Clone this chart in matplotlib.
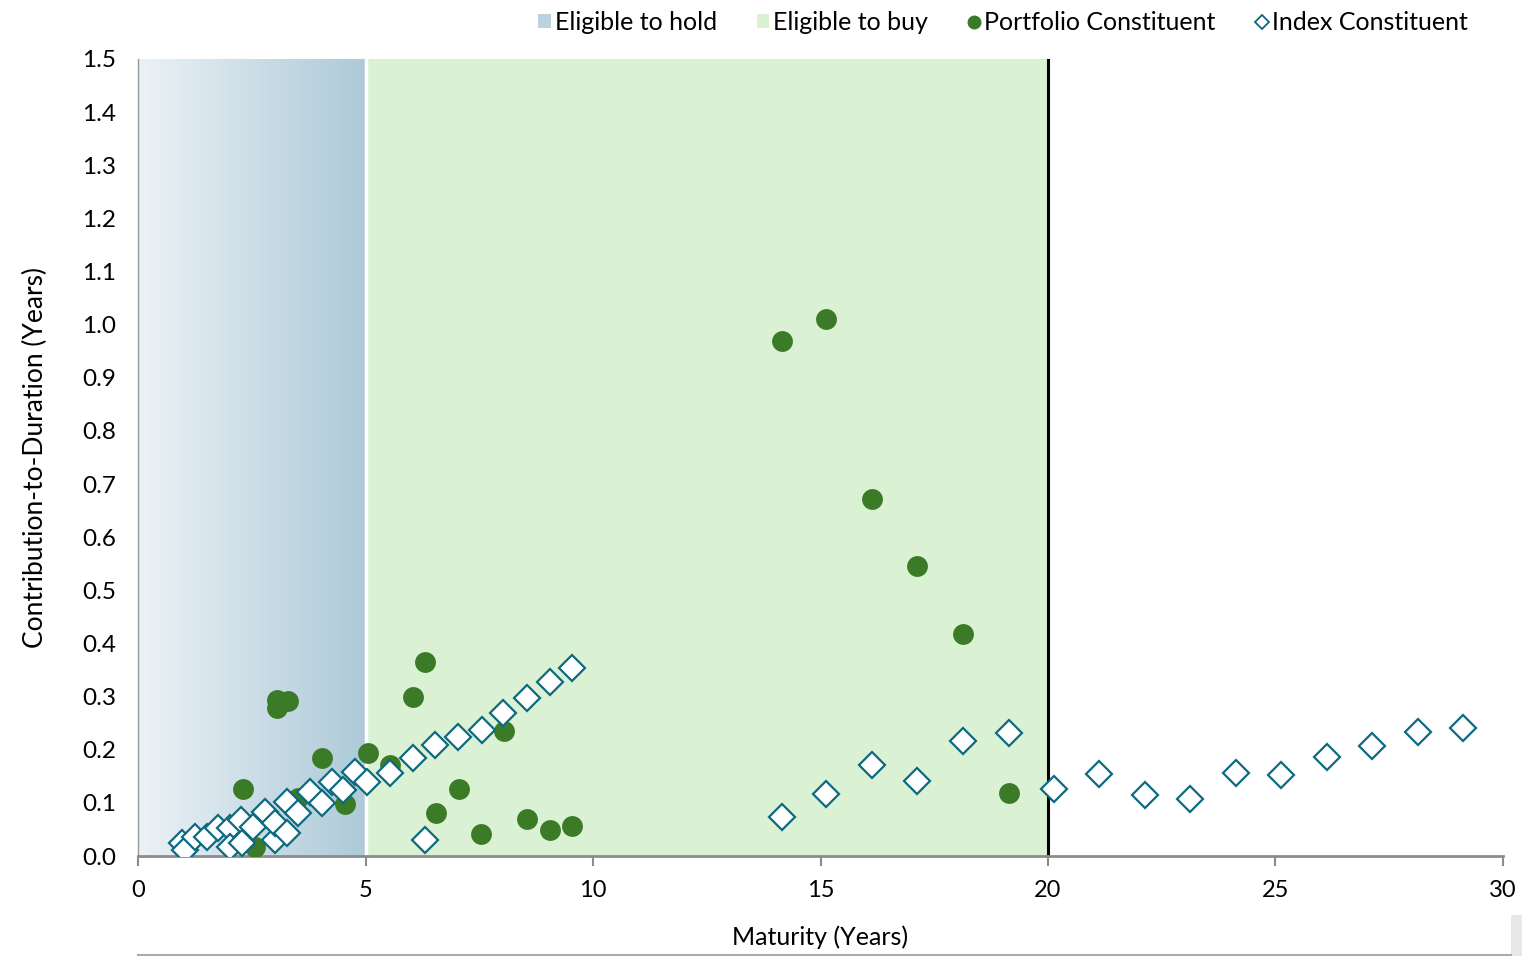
import numpy as np
import matplotlib
matplotlib.use("Agg")
import matplotlib.pyplot as plt
from matplotlib.colors import LinearSegmentedColormap
from matplotlib.lines import Line2D
from matplotlib.patches import Patch, Rectangle

plt.rcParams["font.family"] = ["Lato", "DejaVu Sans"]

# portfolio constituents
port_mat = [2.31, 2.57, 3.05, 3.05, 3.30, 3.51, 4.04, 4.55, 5.05, 5.54, 6.04, 6.31,
            6.55, 7.05, 7.54, 8.04, 8.55, 9.05, 9.54, 14.15, 15.12, 16.13, 17.12,
            18.13, 19.14]
port_ctd = [0.126, 0.017, 0.294, 0.279, 0.292, 0.109, 0.184, 0.098, 0.194, 0.171,
            0.299, 0.365, 0.081, 0.126, 0.041, 0.235, 0.070, 0.049, 0.056, 0.969,
            1.011, 0.672, 0.546, 0.418, 0.119]

# index constituents
idx_mat = [0.97, 1.03, 1.25, 1.51, 1.76, 2.02, 2.02, 2.27, 2.29, 2.53, 2.79, 3.01,
           3.01, 3.27, 3.27, 3.52, 3.78, 4.04, 4.27, 4.51, 4.77, 5.03, 5.54, 6.04,
           6.31, 6.53, 7.03, 7.56, 8.02, 8.55, 9.05, 9.54,
           14.15, 15.12, 16.13, 17.12, 18.13, 19.14, 20.13, 21.12, 22.13, 23.12,
           24.13, 25.12, 26.13, 27.12, 28.13, 29.12]
idx_ctd = [0.024, 0.011, 0.036, 0.036, 0.053, 0.053, 0.017, 0.068, 0.024, 0.055,
           0.083, 0.030, 0.062, 0.102, 0.043, 0.081, 0.120, 0.100, 0.139, 0.124,
           0.158, 0.139, 0.156, 0.184, 0.030, 0.209, 0.224, 0.237, 0.269, 0.297,
           0.327, 0.354,
           0.073, 0.117, 0.171, 0.141, 0.216, 0.231, 0.126, 0.154, 0.115, 0.107,
           0.156, 0.152, 0.186, 0.207, 0.233, 0.241]

x_ticks = [0, 5, 10, 15, 20, 25, 30]
y_ticks = [0.0, 0.1, 0.2, 0.3, 0.4, 0.5, 0.6, 0.7, 0.8, 0.9, 1.0, 1.1, 1.2, 1.3, 1.4, 1.5]

green = "#3b7a27"
teal = "#0c6a80"
hold_cmap = LinearSegmentedColormap.from_list("hold", ["#ecf2f6", "#adcad8"])

fig = plt.figure(figsize=(15.22, 9.56), dpi=100)
ax = fig.add_axes([0.0907, 0.1046, 0.8968, 0.8337])

# eligible to hold: gradient 0-5
grad = np.linspace(0, 1, 256).reshape(1, -1)
ax.imshow(grad, cmap=hold_cmap, extent=[0, 5, 0, 1.5], aspect="auto", zorder=0)
# eligible to buy 5-20
ax.axvspan(5, 20, color="#daf1d3", lw=0, zorder=0)
ax.axvline(5, color="white", lw=2.5, zorder=1)
ax.axvline(20, color="black", lw=2.2, zorder=1)

ax.plot(port_mat, port_ctd, "o", color=green, ms=15, mew=0, zorder=3)
ax.plot(idx_mat, idx_ctd, "D", mfc="white", mec=teal, mew=1.6, ms=13, zorder=4)

ax.set_xlim(0, 30)
ax.set_ylim(0, 1.5)
ax.set_xticks(x_ticks)
ax.set_yticks(y_ticks)
ax.set_yticklabels(["%.1f" % v for v in y_ticks])

for s in ["top", "right"]:
    ax.spines[s].set_visible(False)
ax.spines["left"].set_color("#999999")
ax.spines["left"].set_linewidth(1)
ax.spines["bottom"].set_color("#8c8c8c")
ax.spines["bottom"].set_linewidth(2)
ax.tick_params(axis="x", colors="#8c8c8c", length=7, width=1.5, labelcolor="black",
               labelsize=17, pad=10)
ax.tick_params(axis="y", length=0, labelsize=17.5, pad=16, labelcolor="black")

ax.set_xlabel("Maturity (Years)", fontsize=18, labelpad=18)
ax.set_ylabel("Contribution-to-Duration (Years)", fontsize=19, labelpad=24)

# thin rule below the axis title, and the grey block at the bottom right
fig.add_artist(Line2D([0.0907, 0.993], [0.001, 0.001], color="#aaaaaa", lw=1.5))
fig.add_artist(Rectangle((0.9925, 0.0), 0.0075, 0.043, transform=fig.transFigure,
                         facecolor="#e8e8e8", edgecolor="none"))

handles = [
    Patch(facecolor="#bcd3df", edgecolor="none"),
    Patch(facecolor="#daf1d3", edgecolor="none"),
    Line2D([], [], marker="o", ls="", color=green, ms=9),
    Line2D([], [], marker="D", ls="", mfc="white", mec=teal, mew=1.3, ms=7),
]
labels = ["Eligible to hold", "Eligible to buy", "Portfolio Constituent", "Index Constituent"]
fig.legend(handles, labels, loc="upper right", bbox_to_anchor=(0.979, 1.012), ncol=4,
           frameon=False, fontsize=18, handlelength=0.5, handleheight=0.5,
           handletextpad=0.15, columnspacing=1.6)

fig.savefig("out.png", dpi=100)
